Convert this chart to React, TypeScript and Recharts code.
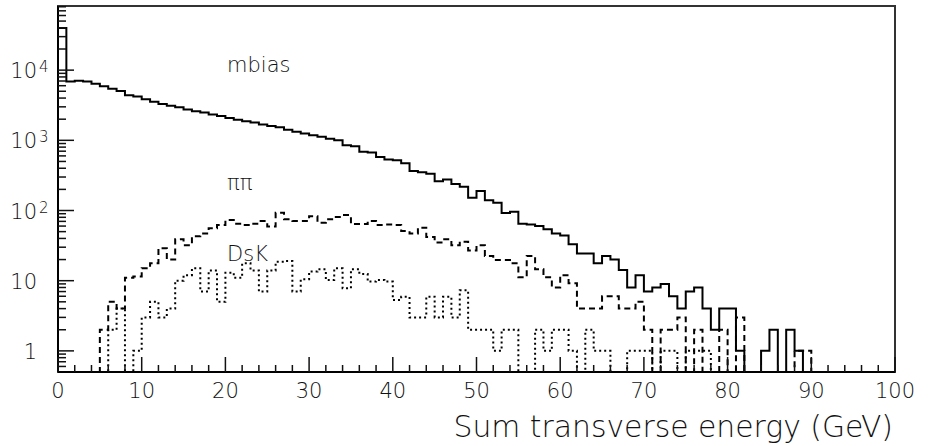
import React from 'react';
import { ComposedChart, Line, XAxis, YAxis, ReferenceArea, ReferenceDot } from 'recharts';

// 1 GeV bins, 0..100 GeV; counts per bin (0 = empty bin)
const binEdges = Array.from({ length: 101 }, (_, i) => i);

const mbias = [
  40000, 6900, 7050, 6900, 6400, 5900, 5450, 5050, 4400, 4200,
  3850, 3550, 3300, 3100, 2950, 2750, 2600, 2500, 2330, 2220,
  2080, 1970, 1870, 1790, 1680, 1600, 1540, 1420, 1320, 1250,
  1180, 1120, 1050, 1000, 850, 825, 685, 670, 580, 535,
  520, 470, 365, 350, 335, 262, 277, 238, 218, 152,
  189, 140, 129, 92, 96, 65, 63, 60, 54, 47,
  44, 33, 24.5, 24.5, 17.7, 22.5, 20, 14.2, 8, 12,
  7, 8, 9, 6, 4, 7, 8, 4, 2, 4,
  4, 1, 0, 0, 1, 2, 0, 2, 1, 0,
  0, 0, 0, 0, 0, 0, 0, 0, 0, 0,
];

const pipi = [
  0, 0, 0, 0, 0, 2, 5, 4, 11, 11.5,
  15, 17.7, 29, 20, 39, 32, 43, 47, 56, 62,
  73, 65, 62, 65, 71, 59, 93, 75, 71, 71,
  83, 67, 75, 81, 86, 64, 64, 71, 62, 63,
  62, 51, 47, 57, 42, 35, 39, 32, 36, 27,
  32, 22.5, 19.7, 19.7, 17.7, 11.2, 22.5, 14.5, 11.2, 8,
  12, 9.2, 4, 4, 4, 6, 6, 4, 4, 5,
  2, 0, 2, 2, 3, 0, 2, 0, 0, 2,
  0, 3, 0, 0, 0, 0, 0, 0, 1, 1,
  0, 0, 0, 0, 0, 0, 0, 0, 0, 0,
];

const dsk = [
  0, 0, 0, 0, 0, 0, 2, 4, 0, 1,
  3, 5, 3, 4, 10, 12, 15, 7, 14, 5,
  13, 11, 17.7, 14, 7, 14, 18.6, 19, 7, 10.5,
  13.5, 14.5, 10.2, 15, 7.8, 14.6, 12.5, 9.7, 10.2, 9.7,
  5.3, 5.9, 3, 3, 5.9, 3, 5.9, 3, 7.3, 2,
  2, 2, 1, 2, 2, 0, 0, 2, 1, 2,
  2, 1, 0, 2, 1, 1, 0, 0, 1, 1,
  1, 0, 1, 1, 0, 1, 1, 1, 0, 0,
  0, 0, 0, 0, 0, 0, 0, 0, 0, 0,
  0, 0, 0, 0, 0, 0, 0, 0, 0, 0,
];

const xTicks = [0, 2, 4, 6, 8, 10, 12, 14, 16, 18, 20, 22, 24, 26, 28, 30, 32, 34, 36, 38, 40,
  42, 44, 46, 48, 50, 52, 54, 56, 58, 60, 62, 64, 66, 68, 70, 72, 74, 76, 78, 80,
  82, 84, 86, 88, 90, 92, 94, 96, 98, 100];
const yTicks = [0.6, 0.7, 0.8, 0.9, 1, 2, 3, 4, 5, 6, 7, 8, 9, 10, 20, 30, 40, 50, 60, 70, 80, 90,
  100, 200, 300, 400, 500, 600, 700, 800, 900, 1000, 2000, 3000, 4000, 5000, 6000, 7000, 8000, 9000,
  10000, 20000, 30000, 40000, 50000, 60000, 70000, 80000];

const Y_MIN = 0.5;
const Y_MAX = 82000;
const EMPTY = 0.1; // below the axis, gets clipped so empty bins drop to the frame

const labels = [
  { text: 'mbias', x: 20.2, y: 9300 },
  { text: 'ππ', x: 20.2, y: 195 },
  { text: 'DsK', x: 20.2, y: 19 },
];

const FONT = '"DejaVu Sans", sans-serif';
const WEIGHT = 200;

const data = binEdges.map((x, i) => ({
  x,
  mbias: mbias[i] > 0 ? mbias[i] : EMPTY,
  pipi: pipi[i] > 0 ? pipi[i] : EMPTY,
  dsk: dsk[i] > 0 ? dsk[i] : EMPTY,
}));

const YTick = (props: any) => {
  const { x, y, payload } = props;
  const v = payload.value;
  const e = Math.log10(v);
  const major = Math.abs(e - Math.round(e)) < 1e-6;
  return (
    <g>
      <line x1={x} x2={x + (major ? 16 : 8)} y1={y} y2={y} stroke="#111" strokeWidth={1.5} />
      {major && v < 100 && (
        <text x={x - 21} y={y + 8} textAnchor="end" fontSize={21} fontFamily={FONT} fontWeight={WEIGHT} fill="#111">{v}</text>
      )}
      {major && v >= 100 && (
        <g fontFamily={FONT} fontWeight={WEIGHT} fill="#111">
          <text x={x - 21} y={y + 8} textAnchor="end" fontSize={21}>10</text>
          <text x={x - 19} y={y + 2} fontSize={15}>{Math.round(e)}</text>
        </g>
      )}
    </g>
  );
};

const XTick = (props: any) => {
  const { x, y, payload } = props;
  const major = payload.value % 10 === 0;
  return (
    <g>
      <line x1={x} x2={x} y1={y} y2={y - (major ? 15 : 7)} stroke="#111" strokeWidth={1.5} />
      {major && (
        <text x={x} y={y + 26} textAnchor="middle" fontSize={21} fontFamily={FONT} fontWeight={WEIGHT} fill="#111">{payload.value}</text>
      )}
    </g>
  );
};

export default function App() {
  return (
    <div style={{ position: 'absolute', left: 0, top: 0, background: '#fff' }}>
      <ComposedChart width={935} height={446} data={data} margin={{ top: 6, right: 40, left: 0, bottom: 0 }}>
        <XAxis
          dataKey="x"
          type="number"
          domain={[0, 100]}
          ticks={xTicks}
          interval={0}
          height={74}
          tickSize={0}
          tickMargin={0}
          tickLine={false}
          tick={<XTick />}
          axisLine={{ stroke: '#000', strokeWidth: 2 }}
          label={{ value: 'Sum transverse energy (GeV)', position: 'insideBottomRight', offset: 0, dy: -9, dx: -2, fontSize: 29.8, fontFamily: FONT, fontWeight: WEIGHT, fill: '#111' }}
        />
        <YAxis
          scale="log"
          domain={[Y_MIN, Y_MAX]}
          allowDataOverflow
          ticks={yTicks}
          interval={0}
          width={58}
          tickSize={0}
          tickMargin={0}
          tickLine={false}
          tick={<YTick />}
          axisLine={{ stroke: '#000', strokeWidth: 2 }}
        />
        <ReferenceArea x1={0} x2={100} y1={Y_MIN} y2={Y_MAX} fill="none" stroke="#333" strokeWidth={2} />
        <Line dataKey="mbias" type="stepAfter" stroke="#000" strokeWidth={2} dot={false} isAnimationActive={false} />
        <Line dataKey="pipi" type="stepAfter" stroke="#000" strokeWidth={2} strokeDasharray="6 4" dot={false} isAnimationActive={false} />
        <Line dataKey="dsk" type="stepAfter" stroke="#000" strokeWidth={2} strokeDasharray="2 3" dot={false} isAnimationActive={false} />
        {labels.map((l) => (
          <ReferenceDot
            key={l.text}
            x={l.x}
            y={l.y}
            r={0}
            shape={(p: any) => (
              <text x={p.cx} y={p.cy} fontSize={21} fontFamily={FONT} fontWeight={WEIGHT} fill="#111">{l.text}</text>
            )}
          />
        ))}
      </ComposedChart>
    </div>
  );
}
